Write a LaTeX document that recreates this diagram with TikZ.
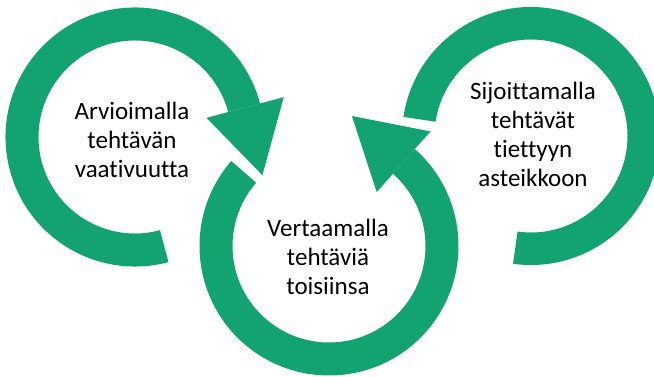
\documentclass[tikz,border=0pt]{standalone}
\usepackage{fontspec}
\setmainfont[RawFeature={-liga;-clig}]{Carlito}
\usetikzlibrary{calc}
\definecolor{ringgreen}{RGB}{18,163,113}
\tikzset{
  ring/.style={fill=ringgreen, draw=none},
  label/.style={align=center, inner sep=0pt, font=\fontsize{25}{29}\selectfont, text=black}
}
\begin{document}
\begin{tikzpicture}[x=1pt,y=1pt]
\useasboundingbox (0,0) rectangle (654,377);
\coordinate (L) at (135,240);
\coordinate (M) at (329,131);
\coordinate (R) at (531,241);
% left ring with arrowhead (clockwise)
\fill[ring] ($(L)+(-75:129.5)$) arc[start angle=-75, end angle=-345, radius=129.5]
  -- ($(L)+(15:96.5)$) arc[start angle=-345, end angle=-75, radius=96.5] -- cycle;
\fill[ring] ($(L)+(15:74)$) -- ($(L)+(15:154)$) -- ($(L)+(-16.7:133)$) -- cycle;
% middle ring with arrowhead (counterclockwise)
\fill[ring] ($(M)+(139:129.5)$) arc[start angle=139, end angle=408.5, radius=129.5]
  -- ($(M)+(48.5:96.5)$) arc[start angle=408.5, end angle=139, radius=96.5] -- cycle;
\fill[ring] ($(M)+(48.5:72)$) -- ($(M)+(48.5:153)$) -- ($(M)+(80:132)$) -- cycle;
% right ring
\fill[ring] ($(R)+(-98:129)$) arc[start angle=-98, end angle=171.5, radius=129]
  -- ($(R)+(171.5:96.5)$) arc[start angle=171.5, end angle=-98, radius=96.5] -- cycle;
% texts
\node[label] (tl) at (132,237.25) {Arvioimalla\\tehtävän\\vaativuutta};
\node[label] (tm) at (328,120) {Vertaamalla\\tehtäviä\\toisiinsa};
\node[label] (tr) at (533,242.25) {Sijoittamalla\\tehtävät\\tiettyyn\\asteikkoon};
\end{tikzpicture}
\end{document}
